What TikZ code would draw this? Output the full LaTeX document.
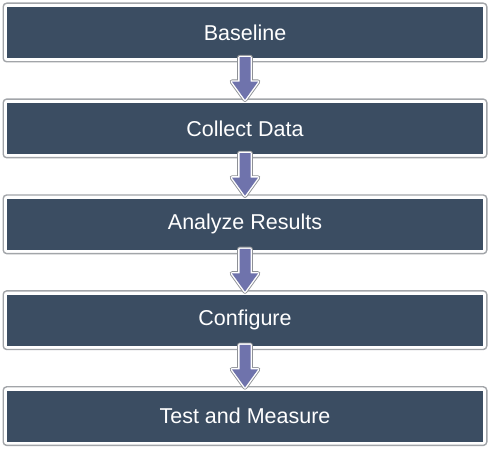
\documentclass[tikz,border=0pt]{standalone}
\usepackage{fontspec}
\setmainfont{Liberation Sans}
\usetikzlibrary{calc}
\definecolor{boxfill}{HTML}{3B4D62}
\definecolor{framegray}{HTML}{A2A5A9}
\definecolor{arrowfill}{HTML}{6F73AC}
\definecolor{arrowline}{HTML}{8E9196}
\tikzset{
  stepbox/.style={fill=boxfill, text=white, minimum width=476pt, minimum height=51pt,
    inner sep=0pt, font=\fontsize{21.5}{26}\selectfont},
  frame/.style={draw=framegray, line width=1.4pt, rounded corners=3.5pt},
}
\begin{document}
\begin{tikzpicture}[x=1pt,y=-1pt]
\useasboundingbox (0,0) rectangle (491,449);
\fill[white] (0,0) rectangle (491,449);
\foreach \i/\t in {0/Baseline,1/Collect Data,2/Analyze Results,3/Configure,4/Test and Measure}{
  \node[stepbox] (b\i) at (245,{32.5+95.9*\i}) {\t};
  \draw[frame] ([xshift=-3.6pt,yshift=3.6pt]b\i.north west) rectangle ([xshift=3.6pt,yshift=-3.6pt]b\i.south east);
}
\foreach \i/\j in {0/1,1/2,2/3,3/4}{
  \path let \p1=(b\i.south), \p2=(b\j.north) in
    coordinate (s\i) at (\x1,\y1+1pt)
    coordinate (t\i) at (\x2,\y2+3pt);
  \foreach \lw/\col in {4.6pt/arrowline,2.8pt/white}{
    \draw[line width=\lw, draw=\col, line join=round]
      let \p1=(s\i), \p2=(t\i) in
      (\x1-5.5pt,\y1) -- (\x1+5.5pt,\y1) -- (\x1+5.5pt,\y2+18pt) -- (\x1+13pt,\y2+18pt)
      -- (\x2,\y2) -- (\x1-13pt,\y2+18pt) -- (\x1-5.5pt,\y2+18pt) -- cycle;
  }
  \fill[arrowfill]
      let \p1=(s\i), \p2=(t\i) in
      (\x1-5.5pt,\y1) -- (\x1+5.5pt,\y1) -- (\x1+5.5pt,\y2+18pt) -- (\x1+13pt,\y2+18pt)
      -- (\x2,\y2) -- (\x1-13pt,\y2+18pt) -- (\x1-5.5pt,\y2+18pt) -- cycle;
}
\end{tikzpicture}
\end{document}
